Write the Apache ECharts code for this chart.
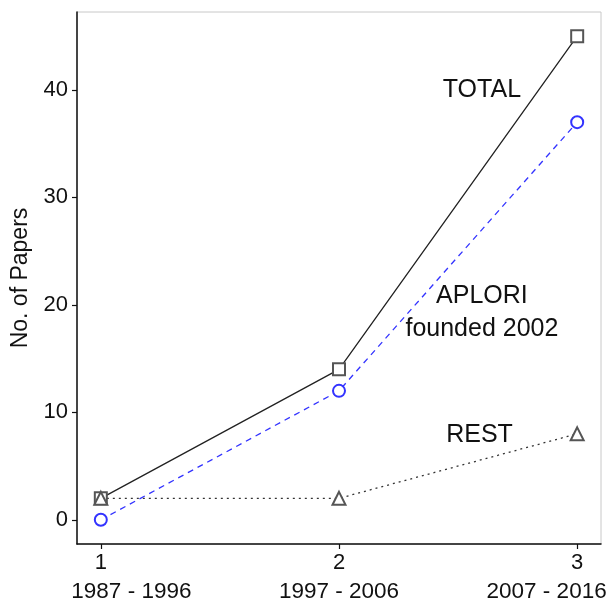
<!DOCTYPE html>
<html>
<head>
<meta charset="utf-8">
<title>No. of Papers</title>
<script src="https://cdn.jsdelivr.net/npm/echarts@6/dist/echarts.min.js"></script>
<style>
  html, body { margin: 0; padding: 0; background: #fff; }
  #chart { width: 610px; height: 613px; }
</style>
</head>
<body>
<div id="chart"></div>
<script>
// periods on the x axis
const periodIdx = [1, 2, 3]
const periods = ['1987 - 1996', '1997 - 2006', '2007 - 2016']
const yTicks = [0, 10, 20, 30, 40]

// series values
const total = [2, 14, 45]
const aplori = [0, 12, 37]
const rest = [2, 2, 8]

const font = 'Liberation Sans, Arial, sans-serif'

const pairs = vals => periodIdx.map((x, i) => [x, vals[i]])

// text annotation placed in data coordinates
const note = (x, y, text) => ({
  coord: [x, y],
  value: text,
  symbol: 'circle',
  symbolSize: 0,
  label: {
    show: true,
    position: 'inside',
    formatter: text,
    color: '#111',
    fontSize: 25,
    fontFamily: font
  }
})

const chart = echarts.init(document.getElementById('chart'))
chart.setOption({
  animation: false,
  backgroundColor: '#fff',
  grid: {
    left: 77,
    right: 9,
    top: 12,
    bottom: 69,
    containLabel: false,
    outerBoundsMode: 'none',
    show: true,
    borderColor: '#c8c8c8',
    borderWidth: 1
  },
  xAxis: {
    type: 'value',
    min: 0.9,
    max: 3.1,
    // the period names are one axis title, spaced out under the ticks
    name: periods.join(' '.repeat(14)),
    nameLocation: 'middle',
    nameGap: 36,
    nameTextStyle: { color: '#111', fontSize: 22.5, fontFamily: font },
    splitLine: { show: false },
    axisLine: { show: true, onZero: false, lineStyle: { color: '#111', width: 1.5 } },
    axisTick: {
      show: true,
      customValues: periodIdx,
      length: 5,
      lineStyle: { color: '#111', width: 1.2 }
    },
    axisLabel: {
      customValues: periodIdx,
      margin: 8,
      color: '#111',
      fontSize: 22,
      fontFamily: font
    }
  },
  yAxis: {
    type: 'value',
    min: -2.25,
    max: 47.25,
    name: 'No. of Papers',
    nameLocation: 'middle',
    nameGap: 44,
    nameRotate: 90,
    nameTextStyle: { color: '#111', fontSize: 23, fontFamily: font },
    splitLine: { show: false },
    axisLine: { show: true, onZero: false, lineStyle: { color: '#111', width: 1.5 } },
    axisTick: {
      show: true,
      customValues: yTicks,
      length: 5,
      lineStyle: { color: '#111', width: 1.2 }
    },
    axisLabel: {
      customValues: yTicks,
      margin: 9,
      color: '#111',
      fontSize: 22,
      fontFamily: font
    }
  },
  series: [
    {
      name: 'TOTAL',
      type: 'line',
      data: pairs(total),
      symbol: 'emptyRect',
      symbolSize: 12,
      lineStyle: { color: '#222', width: 1.3, type: 'solid' },
      itemStyle: { color: '#555', borderWidth: 1.2 },
      markPoint: { data: [note(2.6, 40, 'TOTAL')] }
    },
    {
      name: 'APLORI',
      type: 'line',
      data: pairs(aplori),
      symbol: 'emptyCircle',
      symbolSize: 12,
      lineStyle: { color: '#3333ff', width: 1.3, type: [6, 5] },
      itemStyle: { color: '#3333ff', borderWidth: 1.2 },
      markPoint: {
        data: [note(2.6, 20.8, 'APLORI'), note(2.6, 17.7, 'founded 2002')]
      }
    },
    {
      name: 'REST',
      type: 'line',
      data: pairs(rest),
      symbol: 'emptyTriangle',
      symbolSize: 13,
      lineStyle: { color: '#333', width: 1.3, type: [2, 4] },
      itemStyle: { color: '#555', borderWidth: 1.2 },
      markPoint: { data: [note(2.59, 7.9, 'REST')] }
    }
  ]
})
</script>
</body>
</html>
